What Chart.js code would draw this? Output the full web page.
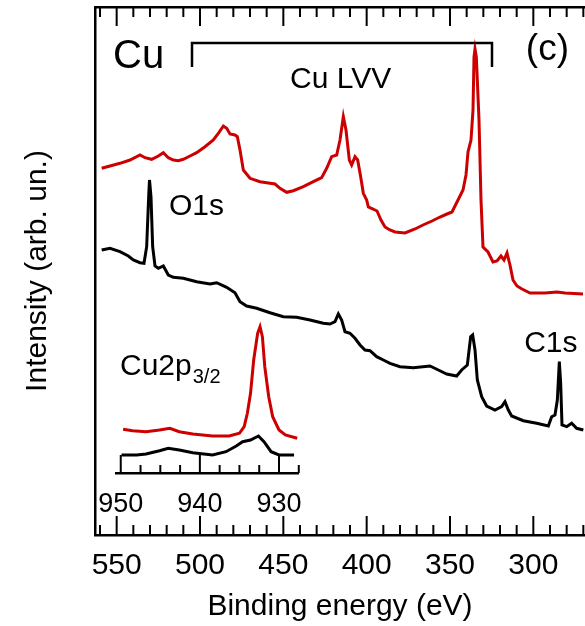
<!DOCTYPE html>
<html>
<head>
<meta charset="utf-8">
<script src="https://cdn.jsdelivr.net/npm/chart.js@4/dist/chart.umd.min.js"></script>
<style>
  html, body { margin: 0; padding: 0; background: #fff; }
  #wrap { position: relative; width: 585px; height: 626px; }
  #main { position: absolute; left: 0; top: 0; }
  #inset { position: absolute; left: 90px; top: 310px; }
</style>
</head>
<body>
<div id="wrap">
  <canvas id="main" width="585" height="626"></canvas>
  <canvas id="inset" width="225" height="210"></canvas>
</div>
<script>
// Cu LVV region, red = clean Cu, black = after exposure
const redEnergy = [559, 554, 548, 542, 536, 533, 529, 525, 522, 519, 516, 513, 510, 506, 502, 497, 492, 489, 486, 484,
  482, 479, 477.6, 476, 474, 470, 464, 460, 455, 452, 448, 444, 438, 432, 427, 424, 421, 418, 416, 414,
  412.4, 410.4, 409, 407, 405.4, 403.6, 402, 400, 399, 396.2, 393.8, 391.4, 389, 386, 383, 377, 371, 366.2, 360.8, 356,
  351.8, 348.8, 345.2, 342.2, 340.4, 339.2, 337.4, 336.2, 335.6, 335.0, 334.2, 332.6, 331.4, 330.2, 327.2, 324.2, 321.8, 319.4, 317.6, 315.8, 314,
  312.2, 309.8, 306.8, 302, 293, 285.8, 281, 270.2];
const redCounts = [366.7, 369, 371.7, 375, 380, 377.3, 375.7, 379, 382.3, 377.3, 375, 374.3, 375.7, 379, 382.3, 388.3, 395, 401.7, 409, 406.7,
  401, 400, 398.3, 385, 365, 356.7, 353.3, 352.3, 351, 346.7, 342.7, 344.3, 348.3, 353.3, 357.3, 366.7, 378.3, 380, 395, 418.3,
  405, 375, 370, 378.3, 375, 358.3, 341.7, 335, 328, 326, 324, 315, 308, 305, 303, 302, 306, 310, 314, 318,
  321, 323, 335, 345, 360, 383, 395, 425, 478, 486, 478, 415, 335, 288, 283, 273, 274, 279, 275, 282, 270,
  255, 249, 246, 242, 242, 243, 242, 241];

const blackEnergy = [559, 554, 548, 543, 540, 536, 533.6, 532, 530.8, 530.3, 529.4, 528.4, 527, 525, 522, 519, 516, 510, 502, 494,
  490, 484, 479, 476, 472, 466, 458, 450, 442, 434, 426, 422, 419, 417, 415, 413, 410, 407, 404, 401,
  398, 394, 390, 386, 380, 372, 362, 357, 352, 346, 343, 339.6, 337.6, 336.4, 335, 333.6, 331, 328, 323, 319,
  317, 315, 313, 306, 298, 291, 289, 287, 285.6, 284.4, 283.6, 282.8, 280, 277, 274, 270];
const blackCounts = [285, 286.7, 283.3, 279, 275, 272.3, 271.7, 288.3, 338.3, 355, 338, 288.3, 269, 266.7, 269, 260, 257.7, 256.7, 253.3, 251,
  252.3, 247.7, 242.3, 233.3, 229, 226.7, 222.3, 218.3, 217.7, 215, 211.7, 211, 213.3, 221, 215, 203.3, 201.7, 196.7, 190, 185,
  184.3, 178.3, 175, 171.7, 168.3, 167.3, 169, 165, 161, 159, 165, 170, 198.3, 200, 185, 155, 138.3, 129, 125, 128.3,
  133.3, 125, 119, 114.3, 111.7, 109, 118.3, 120, 135, 173.3, 151.7, 110, 108.3, 111.7, 106.7, 105];

// inset: Cu2p3/2
const insetRedEnergy = [949.7, 948.5, 946.8, 945.1, 943.8, 942.6, 940.9, 938.4, 936.3, 935.0, 934.4, 934.0, 933.6, 933.2, 932.7, 932.4,
  932.1, 931.8, 931.3, 930.8, 930.0, 929.2, 927.7];
const insetRedCounts = [43.7, 42.3, 41.3, 43, 44.7, 41.3, 39, 37, 37, 39.7, 46.3, 59.7, 79.7, 113, 139.7, 146.3,
  136.3, 106.3, 76.3, 56.3, 43, 38, 34.7];
const insetBlackEnergy = [949.9, 948.0, 946.8, 945.1, 944.0, 942.6, 940.9, 938.4, 936.7, 935.4, 934.6, 933.6, 932.6, 931.9, 931.0, 930.0, 928.1];
const insetBlackCounts = [18, 18, 19, 22.3, 24.7, 23, 20.3, 18, 21.3, 27, 31.3, 33, 37, 31.3, 21.3, 18, 18];

const mainTicks = [560, 550, 540, 530, 520, 510, 500, 490, 480, 470, 460, 450, 440, 430, 420, 410, 400,
  390, 380, 370, 360, 350, 340, 330, 320, 310, 300, 290, 280, 270];
const insetTicks = [950, 947.5, 945, 942.5, 940, 937.5, 935, 932.5, 930, 927.5];

const RED = '#cc0000';
const BLACK = '#000000';
const FONT = '"Liberation Sans", Arial, Helvetica, sans-serif';

Chart.defaults.font.family = FONT;
Chart.defaults.color = '#000';

function toPoints(xs, ys) {
  return xs.map((v, i) => ({ x: v, y: ys[i] }));
}

// ticks pointing into the plot
const inwardTicks = {
  id: 'inwardTicks',
  afterDatasetsDraw(chart, args, opts) {
    const ctx = chart.ctx;
    (opts.axes || []).forEach((a) => {
      const scale = chart.scales[a.id];
      const y0 = a.side === 'top' ? scale.bottom : scale.top;
      ctx.save();
      ctx.strokeStyle = '#000';
      ctx.lineWidth = opts.width;
      scale.ticks.forEach((t) => {
        const px = scale.getPixelForValue(t.value);
        const len = Math.abs(t.value % a.majorEvery) < 1e-6 ? opts.major : opts.minor;
        ctx.beginPath();
        ctx.moveTo(px, y0);
        ctx.lineTo(px, a.side === 'top' ? y0 + len : y0 - len);
        ctx.stroke();
      });
      ctx.restore();
    });
  },
};

// text labels and the LVV bracket, placed in data units
const notes = {
  id: 'notes',
  afterDraw(chart, args, opts) {
    const { ctx } = chart;
    const x = chart.scales.x;
    const y = chart.scales.y;
    ctx.save();
    ctx.fillStyle = '#000';
    ctx.textBaseline = 'alphabetic';
    ctx.textAlign = 'left';
    (opts.labels || []).forEach((l) => {
      let px = x.getPixelForValue(l.at[0]);
      const py = y.getPixelForValue(l.at[1]);
      ctx.font = l.size + 'px ' + FONT;
      ctx.fillText(l.text, px, py);
      if (l.sub) {
        px += ctx.measureText(l.text).width + 1;
        ctx.font = l.subSize + 'px ' + FONT;
        ctx.fillText(l.sub, px, py + l.drop);
      }
    });
    const b = opts.bracket;
    if (b) {
      const x1 = x.getPixelForValue(b.from);
      const x2 = x.getPixelForValue(b.to);
      const yt = y.getPixelForValue(b.top);
      const yb = y.getPixelForValue(b.bottom);
      ctx.strokeStyle = '#000';
      ctx.lineWidth = b.width;
      ctx.beginPath();
      ctx.moveTo(x1, yb);
      ctx.lineTo(x1, yt);
      ctx.lineTo(x2, yt);
      ctx.lineTo(x2, yb);
      ctx.stroke();
    }
    ctx.restore();
  },
};

const setTicks = (list) => (scale) => {
  scale.ticks = list.map((v) => ({ value: v }));
};

// fixed box size, no extra room for the end labels
const fixHeight = (h) => (s) => {
  s.height = h;
  s.paddingLeft = 0;
  s.paddingRight = 0;
};

new Chart(document.getElementById('main'), {
  type: 'line',
  data: {
    datasets: [
      { data: toPoints(redEnergy, redCounts), borderColor: RED, borderWidth: 3 },
      { data: toPoints(blackEnergy, blackCounts), borderColor: BLACK, borderWidth: 3 },
    ],
  },
  options: {
    responsive: false,
    animation: false,
    devicePixelRatio: 1,
    layout: { padding: 0 },
    elements: { point: { radius: 0 }, line: { tension: 0 } },
    plugins: {
      legend: { display: false },
      tooltip: { enabled: false },
      inwardTicks: {
        width: 2,
        major: 19,
        minor: 10,
        axes: [
          { id: 'x', side: 'bottom', majorEvery: 50 },
          { id: 'xTop', side: 'top', majorEvery: 50 },
        ],
      },
      notes: {
        labels: [
          { text: 'Cu', at: [552.2, 467], size: 40 },
          { text: '(c)', at: [304.5, 475], size: 37 },
          { text: 'Cu LVV', at: [446, 447], size: 30 },
          { text: 'O1s', at: [518.6, 320], size: 30 },
          { text: 'C1s', at: [305.5, 183], size: 30 },
          { text: 'Cu2p', at: [548, 160], size: 30, sub: '3/2', subSize: 20, drop: 8 },
        ],
        bracket: { from: 504.8, to: 324.8, top: 492, bottom: 468, width: 2.5 },
      },
    },
    scales: {
      x: {
        type: 'linear',
        position: 'bottom',
        reverse: true,
        min: 269,
        max: 563,
        afterBuildTicks: setTicks(mainTicks),
        afterFit: fixHeight(91),
        grid: { display: false },
        border: { display: true, color: '#000', width: 2.5 },
        ticks: {
          autoSkip: false,
          maxRotation: 0,
          minRotation: 0,
          padding: 5,
          font: { size: 30 },
          callback: (v) => (v % 50 === 0 ? String(v) : ''),
        },
        title: {
          display: true,
          text: 'Binding energy (eV)',
          font: { size: 30 },
          padding: { top: 0, bottom: 1 },
        },
      },
      xTop: {
        type: 'linear',
        position: 'top',
        reverse: true,
        min: 269,
        max: 563,
        afterBuildTicks: setTicks(mainTicks),
        afterFit: fixHeight(7),
        grid: { display: false },
        border: { display: true, color: '#000', width: 2.5 },
        ticks: { display: false, autoSkip: false },
      },
      y: {
        type: 'linear',
        min: 0,
        max: 528,
        afterFit: (s) => { s.width = 95; },
        grid: { display: false },
        border: { display: true, color: '#000', width: 2.5 },
        ticks: { display: false },
        title: {
          display: true,
          text: 'Intensity (arb. un.)',
          font: { size: 30 },
          padding: { top: 20, bottom: 0 },
        },
      },
    },
  },
  plugins: [inwardTicks, notes],
});

new Chart(document.getElementById('inset'), {
  type: 'line',
  data: {
    datasets: [
      { data: toPoints(insetRedEnergy, insetRedCounts), borderColor: RED, borderWidth: 3 },
      { data: toPoints(insetBlackEnergy, insetBlackCounts), borderColor: BLACK, borderWidth: 3 },
    ],
  },
  options: {
    responsive: false,
    animation: false,
    devicePixelRatio: 1,
    layout: { padding: { left: 26, right: 17, top: 0, bottom: 0 } },
    elements: { point: { radius: 0 }, line: { tension: 0 } },
    plugins: {
      legend: { display: false },
      tooltip: { enabled: false },
      inwardTicks: {
        width: 2,
        major: 18,
        minor: 8,
        axes: [{ id: 'x', side: 'bottom', majorEvery: 10 }],
      },
    },
    scales: {
      x: {
        type: 'linear',
        reverse: true,
        min: 927.6,
        max: 950.6,
        afterBuildTicks: setTicks(insetTicks),
        afterFit: fixHeight(47),
        grid: { display: false },
        border: { display: true, color: '#000', width: 2.5 },
        ticks: {
          autoSkip: false,
          maxRotation: 0,
          minRotation: 0,
          padding: 7,
          font: { size: 27 },
          callback: (v) => (v % 10 === 0 ? String(v) : ''),
        },
      },
      y: { display: false, min: 0, max: 163 },
    },
  },
  plugins: [inwardTicks],
});
</script>
</body>
</html>
